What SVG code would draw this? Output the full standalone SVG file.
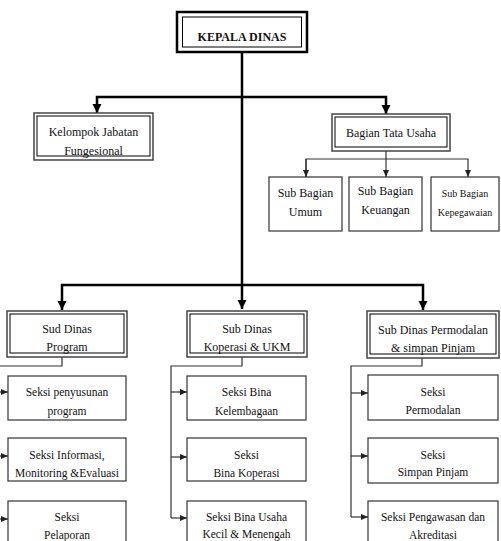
<svg xmlns="http://www.w3.org/2000/svg" width="501" height="541" viewBox="0 0 501 541">
<style>
.t{font-family:'Liberation Serif','Times New Roman',Times,serif;font-size:12px;fill:#111;text-anchor:middle}
.s{font-size:11.5px}
.k{font-size:10px}
.b{font-weight:bold}
.main{stroke:#000;stroke-width:2.5;fill:none}
.sub{stroke:#333;stroke-width:1.2;fill:none}
.box{fill:#fff;stroke:#333;stroke-width:1.2}
.in{fill:#fff;stroke:#000;stroke-width:1}
.out{fill:#fff;stroke:#444;stroke-width:1.5}
</style>
<defs>
<marker id="am" markerUnits="userSpaceOnUse" markerWidth="10" markerHeight="10" refX="9" refY="5" orient="auto" viewBox="0 0 10 10"><path d="M0,0.5 L9,5 L0,9.5 z" fill="#000"/></marker>
<marker id="as" markerUnits="userSpaceOnUse" markerWidth="7" markerHeight="7" refX="7" refY="3.5" orient="auto" viewBox="0 0 7 7"><path d="M0,0.5 L7,3.5 L0,6.5 z" fill="#222"/></marker>
</defs>
<rect width="501" height="541" fill="#fff"/>
<g id="connectors">
<path class="main" d="M242,52 V309" marker-end="url(#am)"/>
<path class="main" d="M242,97 H97 V113" marker-end="url(#am)"/>
<path class="main" d="M242,97 H386 V114" marker-end="url(#am)"/>
<path class="main" d="M242,285 H62 V310" marker-end="url(#am)"/>
<path class="main" d="M242,285 H423 V310" marker-end="url(#am)"/>
<path class="sub" d="M386,151 V177" marker-end="url(#as)"/>
<path class="sub" d="M306,177 V159 H468 V177" marker-end="url(#as)"/>
<path class="sub" d="M306,159 V177" marker-end="url(#as)"/>
<path class="sub" d="M62,357 V366 H-1.5 V519"/>
<path class="sub" d="M-1.5,392 H8" marker-end="url(#as)"/>
<path class="sub" d="M-1.5,456 H8" marker-end="url(#as)"/>
<path class="sub" d="M-1.5,519 H8" marker-end="url(#as)"/>
<path class="sub" d="M242,357 V366 H171 V518"/>
<path class="sub" d="M171,392 H187" marker-end="url(#as)"/>
<path class="sub" d="M171,457 H187" marker-end="url(#as)"/>
<path class="sub" d="M171,518 H187" marker-end="url(#as)"/>
<path class="sub" d="M422,358 V366 H351 V517"/>
<path class="sub" d="M351,393 H368" marker-end="url(#as)"/>
<path class="sub" d="M351,456 H368" marker-end="url(#as)"/>
<path class="sub" d="M351,517 H368" marker-end="url(#as)"/>
</g>
<g id="kepala">
<rect x="177" y="12" width="130" height="40" fill="#fff" stroke="#000" stroke-width="2.5"/>
<rect class="in" x="182.5" y="17" width="119" height="30"/>
<text class="t b" x="242" y="41">KEPALA DINAS</text>
</g>
<g id="kelompok">
<rect class="out" x="34" y="113" width="119" height="47"/>
<rect class="in" x="37" y="116" width="113" height="40"/>
<text class="t" x="93.5" y="136">Kelompok Jabatan</text>
<text class="t" x="93.5" y="155">Fungesional</text>
</g>
<g id="tatausaha">
<rect class="out" x="332" y="114" width="118" height="37"/>
<rect class="in" x="335" y="117" width="112" height="30"/>
<text class="t" x="391" y="137">Bagian Tata Usaha</text>
</g>
<g id="umum">
<rect class="box" x="269" y="177" width="73" height="54"/>
<text class="t" x="305.5" y="197">Sub Bagian</text>
<text class="t" x="305.5" y="216">Umum</text>
</g>
<g id="keuangan">
<rect class="box" x="349" y="177" width="73" height="54"/>
<text class="t" x="385.5" y="195">Sub Bagian</text>
<text class="t" x="385.5" y="214">Keuangan</text>
</g>
<g id="kepegawaian">
<rect class="box" x="431" y="177" width="68" height="54"/>
<text class="t k" x="465" y="197">Sub Bagian</text>
<text class="t k" x="465" y="216">Kepegawaian</text>
</g>
<g id="program">
<rect class="out" x="7" y="311" width="120" height="46"/>
<rect class="in" x="10" y="314" width="114" height="39"/>
<text class="t" x="67" y="333">Sud Dinas</text>
<text class="t" x="67" y="351">Program</text>
</g>
<g id="koperasi">
<rect class="out" x="187" y="311" width="120" height="46"/>
<rect class="in" x="190" y="314" width="114" height="39"/>
<text class="t" x="247" y="333">Sub Dinas</text>
<text class="t" x="247" y="351">Koperasi &amp; UKM</text>
</g>
<g id="permodalan">
<rect class="out" x="367" y="311" width="132" height="47"/>
<rect class="in" x="370" y="314" width="126" height="40"/>
<text class="t" x="433" y="334">Sub Dinas Permodalan</text>
<text class="t" x="433" y="352">&amp; simpan Pinjam</text>
</g>
<g id="penyusunan">
<rect class="box" x="8" y="376" width="118" height="44"/>
<text class="t s" x="67" y="396">Seksi penyusunan</text>
<text class="t s" x="67" y="415">program</text>
</g>
<g id="informasi">
<rect class="box" x="8" y="438" width="118" height="43"/>
<text class="t s" x="67" y="459">Seksi Informasi,</text>
<text class="t s" x="67" y="477">Monitoring &amp;Evaluasi</text>
</g>
<g id="pelaporan">
<rect class="box" x="8" y="501" width="118" height="50"/>
<text class="t s" x="67" y="521">Seksi</text>
<text class="t s" x="67" y="539">Pelaporan</text>
</g>
<g id="kelembagaan">
<rect class="box" x="187" y="376" width="119" height="44"/>
<text class="t s" x="246.5" y="396">Seksi Bina</text>
<text class="t s" x="246.5" y="415">Kelembagaan</text>
</g>
<g id="binakoperasi">
<rect class="box" x="187" y="438" width="119" height="43"/>
<text class="t s" x="246.5" y="459">Seksi</text>
<text class="t s" x="246.5" y="477">Bina Koperasi</text>
</g>
<g id="usahakecil">
<rect class="box" x="187" y="501" width="119" height="50"/>
<text class="t s" x="246.5" y="521">Seksi Bina Usaha</text>
<text class="t s" x="246.5" y="538">Kecil &amp; Menengah</text>
</g>
<g id="seksipermodalan">
<rect class="box" x="368" y="375" width="130" height="45"/>
<text class="t s" x="433" y="396">Seksi</text>
<text class="t s" x="433" y="414">Permodalan</text>
</g>
<g id="simpanpinjam">
<rect class="box" x="368" y="438" width="130" height="45"/>
<text class="t s" x="433" y="459">Seksi</text>
<text class="t s" x="433" y="476">Simpan Pinjam</text>
</g>
<g id="pengawasan">
<rect class="box" x="368" y="501" width="130" height="50"/>
<text class="t s" x="433" y="521">Seksi Pengawasan dan</text>
<text class="t s" x="433" y="539">Akreditasi</text>
</g>
</svg>
